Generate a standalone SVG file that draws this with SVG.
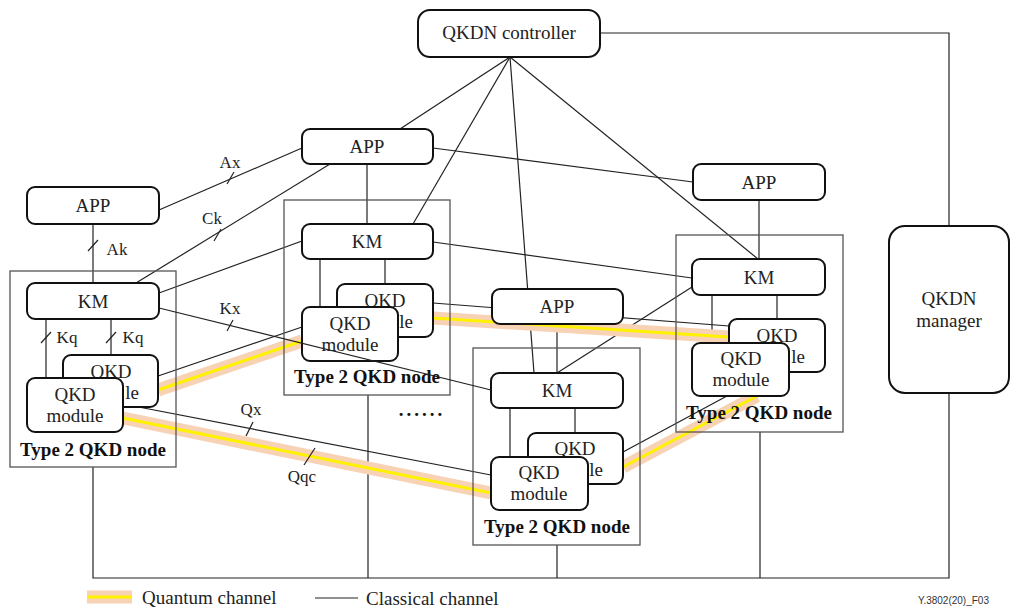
<svg xmlns="http://www.w3.org/2000/svg" width="1011" height="610" viewBox="0 0 1011 610">
  <style>
    .box { fill: #fff; stroke: #111; stroke-width: 2; }
    .frame { fill: none; stroke: #555; stroke-width: 1.3; }
    .ln { fill: none; stroke: #222; stroke-width: 1.2; }
    .qo { fill: none; stroke: #f8d2b4; stroke-width: 13; }
    .qy { fill: none; stroke: #fff200; stroke-width: 3; }
    text { font-family: "Liberation Serif", "Times New Roman", serif; font-size: 19px; fill: #222; text-anchor: middle; }
    .b { font-weight: bold; fill: #111; }
    .tail { text-anchor: end; }
    .lbl { font-size: 17px; }
    .lg { text-anchor: start; font-size: 19px; }
    .ref { font-family: "Liberation Sans", Arial, sans-serif; font-size: 10px; text-anchor: start; fill: #333; }
  </style>

  <!-- classical channels -->
  <g id="connectors">
    <!-- controller fan-out -->
    <line class="ln" x1="510" y1="57" x2="400" y2="129"/>
    <line class="ln" x1="510" y1="57" x2="413" y2="224"/>
    <line class="ln" x1="510" y1="57" x2="534" y2="373"/>
    <line class="ln" x1="510" y1="57" x2="758" y2="259"/>
    <polyline class="ln" points="600,33 949,33 949,226"/>
    <!-- management bus -->
    <polyline class="ln" points="93,467 93,578 949,578 949,393"/>
    <line class="ln" x1="368" y1="395" x2="368" y2="578"/>
    <line class="ln" x1="557" y1="545" x2="557" y2="578"/>
    <line class="ln" x1="760" y1="432" x2="760" y2="578"/>
    <!-- application links -->
    <line class="ln" x1="93" y1="224" x2="93" y2="283"/>
    <line class="ln" x1="159" y1="210" x2="302" y2="148"/>
    <line class="ln" x1="330" y1="164" x2="136" y2="283"/>
    <line class="ln" x1="367" y1="164" x2="367" y2="224"/>
    <line class="ln" x1="433" y1="148" x2="693" y2="182"/>
    <line class="ln" x1="759" y1="200" x2="759" y2="259"/>
    <line class="ln" x1="557" y1="324" x2="557" y2="373"/>
    <!-- KM links -->
    <line class="ln" x1="159" y1="293" x2="302" y2="241"/>
    <line class="ln" x1="433" y1="242" x2="692" y2="278"/>
    <line class="ln" x1="557" y1="373" x2="692" y2="287"/>
    <!-- KM to QKD modules -->
    <line class="ln" x1="46" y1="319" x2="46" y2="378"/>
    <line class="ln" x1="111" y1="319" x2="111" y2="355"/>
    <line class="ln" x1="320" y1="259" x2="320" y2="307"/>
    <line class="ln" x1="385" y1="259" x2="385" y2="284"/>
    <line class="ln" x1="510" y1="408" x2="510" y2="457"/>
    <line class="ln" x1="575" y1="408" x2="575" y2="433"/>
    <line class="ln" x1="712" y1="295" x2="712" y2="343"/>
    <line class="ln" x1="777" y1="295" x2="777" y2="319"/>
    <!-- classical lines alongside quantum links -->
    <line class="ln" x1="158" y1="376" x2="302" y2="327"/>
    <line class="ln" x1="433" y1="303" x2="729" y2="326"/>
    <line class="ln" x1="123" y1="404" x2="491" y2="475"/>
    <line class="ln" x1="623" y1="452" x2="727" y2="396"/>
    <!-- interface ticks -->
    <line class="ln" x1="88" y1="251" x2="98" y2="240"/>
    <line class="ln" x1="227" y1="184" x2="234" y2="172"/>
    <line class="ln" x1="214" y1="241" x2="221" y2="229"/>
    <line class="ln" x1="41" y1="343" x2="51" y2="332"/>
    <line class="ln" x1="106" y1="343" x2="116" y2="332"/>
    <line class="ln" x1="246" y1="436" x2="253" y2="422"/>
    <!-- quantum channels -->
    <g id="quantum">
      <line class="qo" x1="158" y1="390" x2="302" y2="341"/>
      <line class="qy" x1="158" y1="390" x2="302" y2="341"/>
      <line class="qo" x1="433" y1="318" x2="729" y2="337"/>
      <line class="qy" x1="433" y1="318" x2="729" y2="337"/>
      <line class="qo" x1="123" y1="418" x2="491" y2="493"/>
      <line class="qy" x1="123" y1="418" x2="491" y2="493"/>
      <line class="qo" x1="623" y1="467" x2="757" y2="396"/>
      <line class="qy" x1="623" y1="467" x2="757" y2="396"/>
    </g>
    <line class="ln" x1="304" y1="465" x2="315" y2="448"/>
  </g>

  <!-- interface labels -->
  <g id="labels">
    <text class="lbl" x="117" y="255">Ak</text>
    <text class="lbl" x="230" y="168">Ax</text>
    <text class="lbl" x="212" y="224">Ck</text>
    <text class="lbl" x="67" y="343">Kq</text>
    <text class="lbl" x="133" y="343">Kq</text>
    <text class="lbl" x="230" y="314">Kx</text>
    <text class="lbl" x="251" y="415">Qx</text>
    <text class="lbl" x="302" y="482">Qqc</text>
  </g>

  <g id="controller">
    <rect class="box" x="418" y="10" width="182" height="47" rx="12"/>
    <text x="509" y="39">QKDN controller</text>
  </g>

  <g id="manager">
    <rect class="box" x="889" y="226" width="120" height="167" rx="16"/>
    <text x="949" y="305">QKDN</text>
    <text x="949" y="327">manager</text>
  </g>

  <g id="app1">
    <rect class="box" x="27" y="187" width="132" height="37" rx="8"/>
    <text x="93" y="212">APP</text>
  </g>
  <g id="app2">
    <rect class="box" x="302" y="129" width="131" height="35" rx="8"/>
    <text x="367" y="153">APP</text>
  </g>
  <g id="app3">
    <rect class="box" x="492" y="289" width="131" height="35" rx="8"/>
    <text x="557" y="313">APP</text>
  </g>
  <g id="app4">
    <rect class="box" x="693" y="164" width="132" height="36" rx="8"/>
    <text x="759" y="189">APP</text>
  </g>

  <!-- each node: outer frame, KM, rear QKD module (mostly hidden), front QKD module -->
  <g id="node1">
    <rect class="frame" x="10" y="271" width="166" height="196"/>
    <rect class="box" x="27" y="283" width="132" height="36" rx="8"/>
    <text x="93" y="308">KM</text>
    <rect class="box" x="63" y="355" width="95" height="52" rx="8"/>
    <text x="111" y="378">QKD</text>
    <text class="tail" x="139" y="399">le</text>
    <rect class="box" x="27" y="378" width="96" height="54" rx="8"/>
    <text x="75" y="401">QKD</text>
    <text x="75" y="422">module</text>
    <text class="b" x="93" y="456">Type 2 QKD node</text>
  </g>

  <g id="node2">
    <rect class="frame" x="284" y="200" width="166" height="195"/>
    <rect class="box" x="302" y="224" width="131" height="35" rx="8"/>
    <text x="367" y="248">KM</text>
    <rect class="box" x="337" y="284" width="96" height="53" rx="8"/>
    <text x="385" y="307">QKD</text>
    <text class="tail" x="413" y="328">le</text>
    <rect class="box" x="302" y="307" width="96" height="54" rx="8"/>
    <text x="350" y="330">QKD</text>
    <text x="350" y="351">module</text>
    <text class="b" x="367" y="383">Type 2 QKD node</text>
  </g>

  <g id="node3">
    <rect class="frame" x="473" y="348" width="167" height="197"/>
    <rect class="box" x="491" y="373" width="132" height="35" rx="8"/>
    <text x="557" y="397">KM</text>
    <rect class="box" x="528" y="433" width="95" height="51" rx="8"/>
    <text x="575" y="455">QKD</text>
    <text class="tail" x="603" y="476">le</text>
    <rect class="box" x="491" y="457" width="97" height="53" rx="8"/>
    <text x="539" y="479">QKD</text>
    <text x="539" y="500">module</text>
    <text class="b" x="557" y="533">Type 2 QKD node</text>
  </g>

  <g id="node4">
    <rect class="frame" x="676" y="235" width="167" height="197"/>
    <rect class="box" x="692" y="259" width="133" height="36" rx="8"/>
    <text x="759" y="284">KM</text>
    <rect class="box" x="729" y="319" width="96" height="53" rx="8"/>
    <text x="777" y="342">QKD</text>
    <text class="tail" x="805" y="363">le</text>
    <rect class="box" x="692" y="343" width="97" height="53" rx="8"/>
    <text x="741" y="365">QKD</text>
    <text x="741" y="386">module</text>
    <text class="b" x="759" y="419">Type 2 QKD node</text>
  </g>

  <!-- Kx runs across node 2 -->
  <g id="connectors-top">
    <line class="ln" x1="159" y1="308" x2="491" y2="390"/>
    <line class="ln" x1="227" y1="331" x2="233" y2="320"/>
  </g>

  <text class="b" x="422" y="416" letter-spacing="3">......</text>

  <g id="legend">
    <line class="qo" x1="87" y1="597" x2="132" y2="597"/>
    <line class="qy" x1="87" y1="597" x2="132" y2="597"/>
    <text class="lg" x="142" y="604">Quantum channel</text>
    <line class="ln" x1="315" y1="598" x2="358" y2="598"/>
    <text class="lg" x="366" y="605">Classical channel</text>
    <text class="ref" x="918" y="604">Y.3802(20)_F03</text>
  </g>
</svg>
